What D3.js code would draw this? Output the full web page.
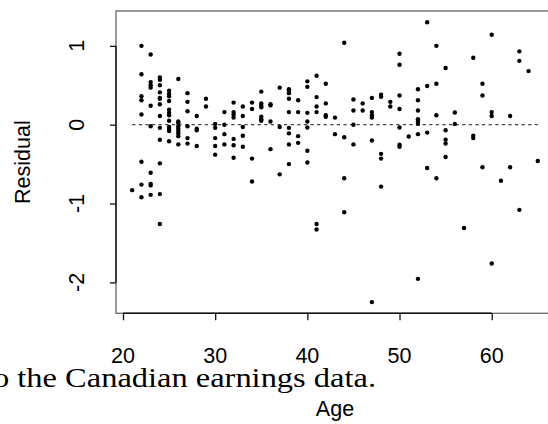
<!DOCTYPE html>
<html>
<head>
<meta charset="utf-8">
<script src="https://cdn.jsdelivr.net/npm/d3@7"></script>
<style>
  html, body { margin: 0; padding: 0; background: #fff; }
  svg { display: block; }
</style>
</head>
<body>
<svg id="chart" width="548" height="424"></svg>
<script>
// Residuals from the earnings regression, grouped by age
const ageValues = [21,22,23,24,25,26,27,28,29,30,31,32,33,34,35,36,37,38,39,40,41,42,43,44,45,46,47,48,49,50,51,52,53,54,55,56,57,58,59,60,61,62,63,64,65];
const residualsByAge = [
  [-0.83],
  [1.00, 0.64, 0.36, 0.31, 0.13, -0.47, -0.76, -0.92],
  [0.89, 0.54, 0.50, 0.47, 0.24, -0.02, -0.61, -0.75, -0.77, -0.89],
  [0.60, 0.57, 0.50, 0.41, 0.34, 0.33, 0.26, 0.11, -0.04, -0.19, -0.49, -0.88, -1.26],
  [0.43, 0.39, 0.36, 0.30, 0.19, 0.15, 0.12, 0.05, -0.03, -0.05, -0.08, -0.21],
  [0.58, 0.04, 0.02, -0.02, -0.05, -0.08, -0.11, -0.145, -0.25],
  [0.40, 0.29, 0.17, -0.02, -0.17, -0.24],
  [0.11, -0.05, -0.07, -0.27],
  [0.33, 0.23],
  [0.01, -0.04, -0.17, -0.27, -0.38],
  [0.16, 0.00, -0.12, -0.25],
  [0.28, 0.16, 0.13, 0.09, -0.18, -0.26, -0.42],
  [0.23, 0.11, -0.03, -0.14, -0.28],
  [0.28, 0.20, -0.43, -0.72],
  [0.42, 0.27, 0.24, 0.22, 0.10, 0.07, 0.05],
  [0.26, 0.245, 0.04, -0.31],
  [0.47, -0.03, -0.63],
  [0.45, 0.43, 0.40, 0.33, 0.16, -0.04, -0.11, -0.25, -0.50],
  [0.31, 0.16, -0.145, -0.23],
  [0.55, 0.48, 0.15, 0.04, -0.035, -0.33, -0.48],
  [0.62, 0.35, 0.23, 0.16, -1.26, -1.33],
  [0.52, 0.27, 0.12, 0.10],
  [0.09, -0.12],
  [1.04, -0.16, -0.68, -1.11],
  [0.32, 0.18, 0.00, -0.25],
  [0.27, 0.18],
  [0.34, 0.16, 0.12, 0.09, -0.20, -2.25],
  [0.38, 0.355, -0.37, -0.43, -0.785],
  [0.29, 0.23],
  [0.90, 0.76, 0.37, 0.20, -0.035, -0.255, -0.28],
  [-0.15],
  [0.45, 0.31, 0.18, 0.07, 0.04, 0.01, -0.12, -1.955],
  [1.30, 0.49, -0.10, -0.55],
  [1.00, 0.52, 0.12, -0.68],
  [0.72, -0.07, -0.19, -0.24, -0.41],
  [0.155, 0.01],
  [-1.31],
  [0.85, -0.14, -0.17],
  [0.52, 0.37, -0.54],
  [1.14, 0.16, 0.11, -1.76],
  [-0.71],
  [0.11, -0.54],
  [0.93, 0.81, -1.08],
  [0.68],
  [-0.46]
];
const xTicks = [20, 30, 40, 50, 60];
const yTicks = [-2, -1, 0, 1];
const xLabel = "Age";
const yLabel = "Residual";
const captionText = "o the Canadian earnings data.";

const points = ageValues.flatMap((a, i) => residualsByAge[i].map(r => ({ age: a, res: r })));

// Plot region (right edge runs past the window)
const plot = { left: 116, top: 11, right: 554, bottom: 313.3 };

// R-style 4% padding around the data range
function padded(ext) {
  const d = (ext[1] - ext[0]) * 0.04;
  return [ext[0] - d, ext[1] + d];
}
const x = d3.scaleLinear()
  .domain(padded(d3.extent(points, d => d.age)))
  .range([plot.left, plot.right]);
const y = d3.scaleLinear()
  .domain(padded(d3.extent(points, d => d.res)))
  .range([plot.bottom, plot.top]);

const svg = d3.select("#chart");
const sans = "'Liberation Sans', Arial, Helvetica, sans-serif";
const fontSize = 21.5;

// Frame
svg.append("rect")
  .attr("x", plot.left).attr("y", plot.top)
  .attr("width", plot.right - plot.left)
  .attr("height", plot.bottom - plot.top)
  .attr("fill", "none")
  .attr("stroke", "#666")
  .attr("stroke-width", 1.3);

// Bottom axis
const xAxis = d3.axisBottom(x).tickValues(xTicks).tickSize(7).tickFormat("");
const gx = svg.append("g").attr("transform", `translate(0,${plot.bottom})`).call(xAxis);
gx.select(".domain").attr("d", `M${x(xTicks[0])},0H${x(xTicks[xTicks.length - 1])}`)
  .attr("stroke", "#111").attr("stroke-width", 1.4);
gx.selectAll(".tick line").attr("stroke", "#111").attr("stroke-width", 1.3);

svg.append("g").selectAll("text")
  .data(xTicks).join("text")
  .attr("x", d => x(d))
  .attr("y", 363)
  .attr("text-anchor", "middle")
  .attr("font-family", sans)
  .attr("font-size", fontSize)
  .attr("fill", "#000")
  .text(d => d);

// Left axis
const yAxis = d3.axisLeft(y).tickValues(yTicks).tickSize(6).tickFormat("");
const gy = svg.append("g").attr("transform", `translate(${plot.left},0)`).call(yAxis);
gy.select(".domain").attr("d", `M0,${y(yTicks[0])}V${y(yTicks[yTicks.length - 1])}`)
  .attr("stroke", "#111").attr("stroke-width", 1.4);
gy.selectAll(".tick line").attr("stroke", "#111").attr("stroke-width", 1.3);

svg.append("g").selectAll("text")
  .data(yTicks).join("text")
  .attr("transform", d => `translate(83.5,${y(d)}) rotate(-90)`)
  .attr("text-anchor", "middle")
  .attr("font-family", sans)
  .attr("font-size", fontSize)
  .attr("fill", "#000")
  .text(d => d);

// Axis titles
svg.append("text")
  .attr("x", (plot.left + plot.right) / 2)
  .attr("y", 415.5)
  .attr("text-anchor", "middle")
  .attr("font-family", sans)
  .attr("font-size", fontSize)
  .text(xLabel);

svg.append("text")
  .attr("transform", `translate(29.5,${(plot.top + plot.bottom) / 2}) rotate(-90)`)
  .attr("text-anchor", "middle")
  .attr("font-family", sans)
  .attr("font-size", fontSize)
  .text(yLabel);

// Zero reference line across the age range
const ageExtent = d3.extent(ageValues);
svg.append("line")
  .attr("x1", x(ageExtent[0])).attr("x2", x(ageExtent[1]))
  .attr("y1", y(0)).attr("y2", y(0))
  .attr("stroke", "#444")
  .attr("stroke-width", 1.2)
  .attr("stroke-dasharray", "3.2,3.4");

// Residual points
svg.append("g").selectAll("circle")
  .data(points).join("circle")
  .attr("cx", d => x(d.age))
  .attr("cy", d => y(d.res))
  .attr("r", 2.2)
  .attr("fill", "#000");

// Caption line from the surrounding text
svg.append("text")
  .attr("x", -7)
  .attr("y", 387.3)
  .attr("font-family", "'Liberation Serif', 'Times New Roman', serif")
  .attr("font-size", 28)
  .attr("textLength", 383)
  .attr("lengthAdjust", "spacingAndGlyphs")
  .attr("fill", "#000")
  .text(captionText);
</script>
</body>
</html>
